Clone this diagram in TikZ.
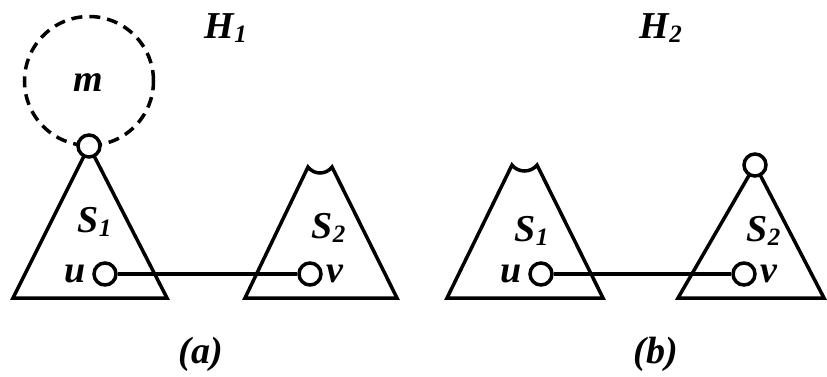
\documentclass[tikz,border=0pt]{standalone}
\usepackage{fontspec}
\setmainfont{Liberation Serif}
\usetikzlibrary{positioning}
\newcommand{\subnum}[1]{\lower4pt\hbox{\fontsize{25}{25}\selectfont #1}}

\begin{document}
\begin{tikzpicture}[x=1pt, y=-1pt, line width=3.5pt,
    vtx/.style={draw, circle, fill=white, minimum size=22pt, inner sep=0pt},
    grp/.style={draw, circle, dash pattern=on 11pt off 7pt, minimum size=129pt, inner sep=0pt},
    lbl/.style={font=\fontsize{38}{40}\selectfont\bfseries\itshape, inner sep=0pt}
]
\useasboundingbox (0,0) rectangle (827,377);

% (a)
\node[grp] (mset) at (89,81) {};
\node[lbl, anchor=base] (mlab) at (88,92) {m};
\coordinate (topa) at (89,146);
\draw (topa) -- (13,298) -- (167,298) -- cycle;
\node[vtx] (roota) at (topa) {};
\draw (308,167) -- (245,298) -- (397,298) -- (332,167) .. controls (326,175) and (314,175) .. cycle;
\node[vtx] (ua) at (105,274) {};
\node[vtx] (va) at (310,274) {};
\draw (ua) -- (va);
\node[lbl, left=5pt of ua] (ula) {u};
\node[lbl, right=2pt of va] (vla) {v};
\node[lbl, anchor=base west] (s1a) at (76,232) {S\subnum{1}};
\node[lbl, anchor=base west] (s2a) at (310,238) {S\subnum{2}};
\node[lbl, anchor=base west] (h1) at (203,39) {H\subnum{1}};
\node[lbl, anchor=base west] (capa) at (177,363) {(a)};

% (b)
\draw (512,165) -- (447,298) -- (603,298) -- (537,165) .. controls (531,173) and (518,173) .. cycle;
\coordinate (topb) at (755,165);
\draw (topb) -- (678,298) -- (824,298) -- cycle;
\node[vtx] (rootb) at (topb) {};
\node[vtx] (ub) at (541,274) {};
\node[vtx] (vb) at (744,274) {};
\draw (ub) -- (vb);
\node[lbl, left=5pt of ub] (ulb) {u};
\node[lbl, right=2pt of vb] (vlb) {v};
\node[lbl, anchor=base west] (s1b) at (513,241) {S\subnum{1}};
\node[lbl, anchor=base west] (s2b) at (745,241) {S\subnum{2}};
\node[lbl, anchor=base west] (h2) at (638,39) {H\subnum{2}};
\node[lbl, anchor=base west] (capb) at (632,363) {(b)};
\end{tikzpicture}
\end{document}
